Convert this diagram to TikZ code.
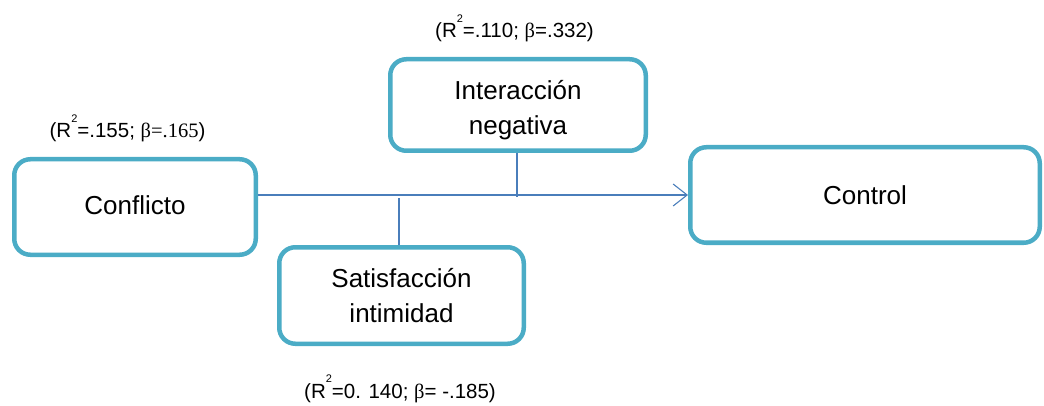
\documentclass[tikz,border=0pt]{standalone}
\usepackage{fontspec}
\setmainfont{Liberation Sans}
\newfontfamily\serifb{Liberation Serif}
\usetikzlibrary{arrows.meta}
\definecolor{boxc}{HTML}{4BACC6}
\definecolor{linec}{HTML}{4A7EBB}
\newcommand{\rsq}{R\raisebox{0.75em}{\fontsize{11}{11}\selectfont 2}}
\tikzset{
  vbox/.style={draw=boxc, line width=4.5pt, rounded corners=16pt, fill=white,
    inner sep=0pt, align=center, font=\fontsize{26}{35}\selectfont},
  conn/.style={draw=linec, line width=1.1pt},
  lab/.style={font=\fontsize{20.5}{22}\selectfont, inner sep=0pt, anchor=base}
}
\begin{document}
\begin{tikzpicture}[x=1pt,y=-1pt]
\useasboundingbox (0,0) rectangle (1044,406);
\node[vbox, minimum width=241.5pt, minimum height=95.5pt] (conf) at (135,207) {\raisebox{2pt}[\height][\depth]{Conflicto}};
\node[vbox, minimum width=255.5pt, minimum height=91.5pt] (inter) at (518,105) {\raisebox{-5pt}[\height][\depth]{\begin{tabular}{@{}c@{}}Interacción\\negativa\end{tabular}}};
\node[vbox, minimum width=244.5pt, minimum height=96.5pt] (sat) at (401.5,295.5) {Satisfacción\\intimidad};
\node[vbox, minimum width=349.5pt, minimum height=95.5pt] (ctrl) at (865,195) {Control};
\coordinate (a) at (conf.east |- 0,195);
\coordinate (jt) at (517,197);
\coordinate (js) at (399,198);
\draw[conn, -{Straight Barb[length=14pt,width=22pt,line width=1.1pt]}] (a) -- (ctrl.west);
\draw[conn] (inter.south -| jt) -- (jt);
\draw[conn] (sat.north -| js) -- (js);
\node[lab] (l1) at (127.5,138) {(\rsq=.155; {\serifb β=.165})};
\node[lab] (l2) at (514.5,38) {(\rsq=.110; {\serifb β}=.332)};
\node[lab] (l3) at (400,398) {(\rsq=0. 140; {\serifb β}= -.185)};
\end{tikzpicture}
\end{document}
